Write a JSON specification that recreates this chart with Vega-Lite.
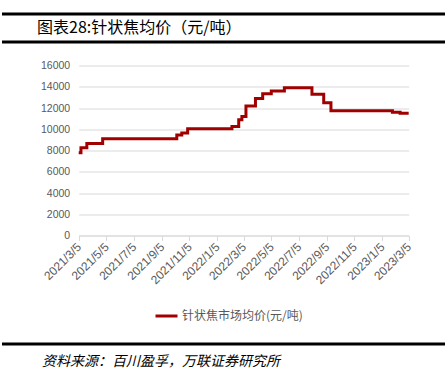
{
  "$schema": "https://vega.github.io/schema/vega-lite/v6.json",
  "padding": {"left": 0, "top": 12, "right": 0, "bottom": 0},
  "spacing": 16.5,
  "resolve": {"legend": {"color": "independent"}, "scale": {"color": "independent"}},
  "config": {
    "view": {"stroke": null},
    "axis": {"labelFont": "Liberation Sans", "labelFontSize": 10.5, "labelColor": "#595959"}
  },
  "vconcat": [
    {
      "width": 445,
      "height": 28,
      "view": {"stroke": "#000000", "strokeWidth": 3, "strokeDash": [445, 28], "fill": null},
      "title": {"text": "图表28:针状焦均价（元/吨）", "orient": "top", "anchor": "start", "frame": "group", "offset": -22, "dx": 35, "font": "Noto Sans CJK SC", "fontSize": 16, "fontWeight": "normal", "color": "#000000"},
      "data": {"values": [{}]},
      "mark": {"type": "text"},
      "encoding": {}
    },
    {
      "width": 445,
      "height": 170,
      "view": {"stroke": null},
      "data": {"values": [
        {"date": "2021-03-05", "price": 7800},
        {"date": "2021-03-10", "price": 8250},
        {"date": "2021-03-23", "price": 8650},
        {"date": "2021-04-27", "price": 9100},
        {"date": "2021-10-08", "price": 9450},
        {"date": "2021-10-19", "price": 9650},
        {"date": "2021-11-01", "price": 10050},
        {"date": "2022-02-07", "price": 10250},
        {"date": "2022-02-22", "price": 10900},
        {"date": "2022-03-01", "price": 11200},
        {"date": "2022-03-10", "price": 12200},
        {"date": "2022-03-31", "price": 12900},
        {"date": "2022-04-16", "price": 13350},
        {"date": "2022-05-05", "price": 13600},
        {"date": "2022-06-03", "price": 13900},
        {"date": "2022-08-03", "price": 13300},
        {"date": "2022-08-29", "price": 12500},
        {"date": "2022-09-14", "price": 11750},
        {"date": "2023-01-28", "price": 11600},
        {"date": "2023-02-14", "price": 11500},
        {"date": "2023-03-05", "price": 11500}
      ]},
      "mark": {"type": "line", "interpolate": "step-after", "strokeWidth": 3},
      "encoding": {
        "x": {
          "field": "date", "type": "temporal",
          "scale": {"type": "utc", "domain": [{"year": 2021, "month": 3, "date": 5, "utc": true}, {"year": 2023, "month": 3, "date": 5, "utc": true}], "rangeMin": 76.7, "rangeMax": 406.7},
          "axis": {
            "title": null, "grid": false,
            "labelExpr": "utcFormat(datum.value, '%Y/%-m/%-d')",
            "values": [
              {"year": 2021, "month": 3, "date": 5, "utc": true},
              {"year": 2021, "month": 5, "date": 5, "utc": true},
              {"year": 2021, "month": 7, "date": 5, "utc": true},
              {"year": 2021, "month": 9, "date": 5, "utc": true},
              {"year": 2021, "month": 11, "date": 5, "utc": true},
              {"year": 2022, "month": 1, "date": 5, "utc": true},
              {"year": 2022, "month": 3, "date": 5, "utc": true},
              {"year": 2022, "month": 5, "date": 5, "utc": true},
              {"year": 2022, "month": 7, "date": 5, "utc": true},
              {"year": 2022, "month": 9, "date": 5, "utc": true},
              {"year": 2022, "month": 11, "date": 5, "utc": true},
              {"year": 2023, "month": 1, "date": 5, "utc": true},
              {"year": 2023, "month": 3, "date": 5, "utc": true}
            ],
            "labelAngle": -45, "labelAlign": "right", "labelBaseline": "middle", "labelPadding": 4, "labelFontSize": 12,
            "domainColor": "#D9D9D9", "tickColor": "#D9D9D9", "tickSize": 5, "labelOverlap": false, "labelFlush": false
          }
        },
        "y": {
          "field": "price", "type": "quantitative",
          "scale": {"domain": [0, 16000], "nice": false},
          "axis": {
            "title": null, "values": [0, 2000, 4000, 6000, 8000, 10000, 12000, 14000, 16000],
            "format": "d", "offset": -76.7, "domain": false, "ticks": false, "tickSize": 0, "labelPadding": 9,
            "gridColor": "#D9D9D9", "gridWidth": 1
          }
        },
        "color": {
          "datum": "针状焦市场均价(元/吨)",
          "scale": {"range": ["#A00000"]},
          "legend": {
            "title": null, "orient": "none", "legendX": 149, "legendY": 235, "padding": 3, "direction": "horizontal",
            "symbolType": "stroke", "symbolStrokeWidth": 3, "symbolSize": 484, "labelOffset": 3,
            "labelFont": "Noto Sans CJK SC", "labelFontSize": 12, "labelColor": "#595959"
          }
        }
      }
    },
    {
      "width": 445,
      "height": 28,
      "view": {"stroke": "#000000", "strokeWidth": 3, "strokeDash": [445, 1000], "fill": null},
      "title": {"text": "资料来源：百川盈孚，万联证券研究所", "orient": "top", "anchor": "start", "frame": "group", "offset": -25, "dx": 40, "font": "Noto Sans CJK SC", "fontSize": 14, "fontStyle": "italic", "fontWeight": "normal", "color": "#000000"},
      "data": {"values": [{}]},
      "mark": {"type": "text"},
      "encoding": {}
    }
  ]
}
